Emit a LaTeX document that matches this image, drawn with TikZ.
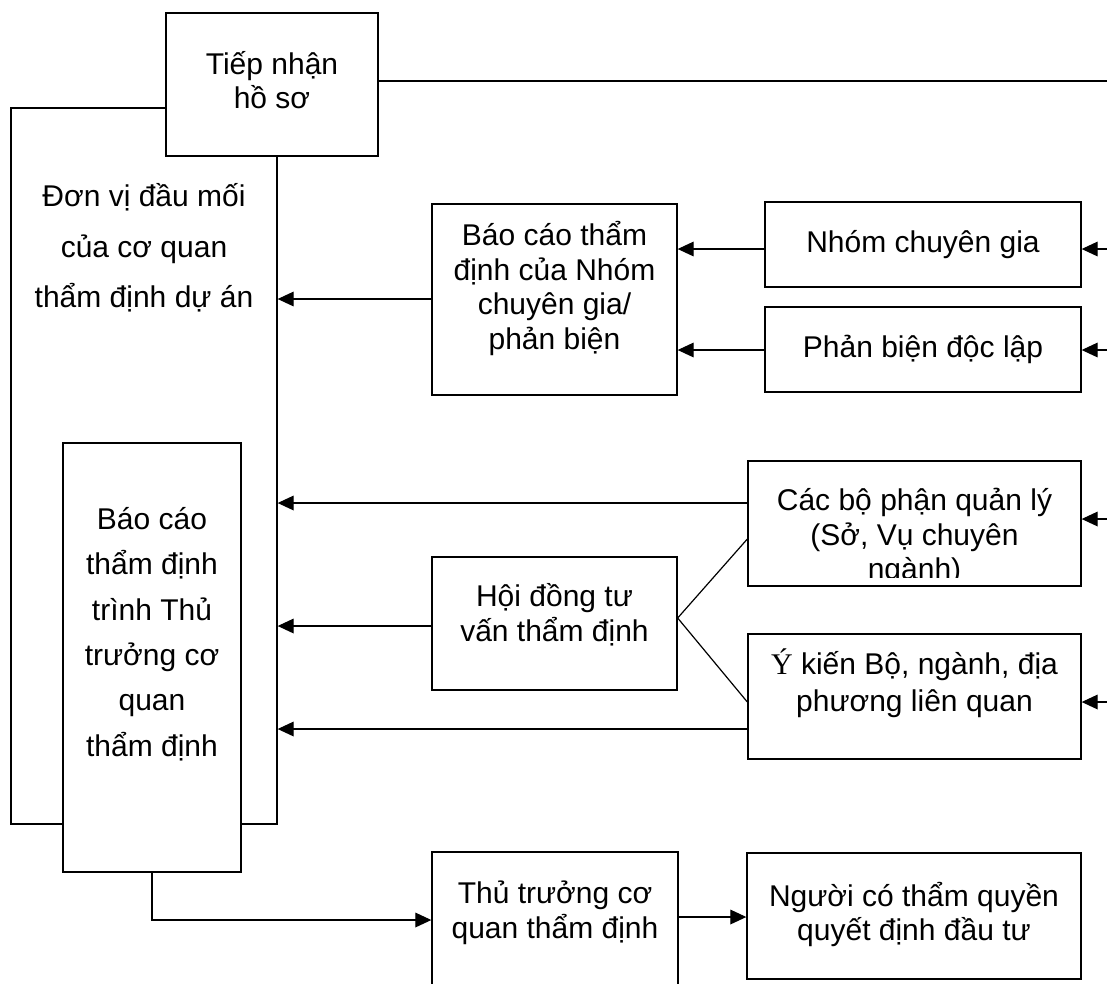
\documentclass[tikz,border=0pt]{standalone}
\usepackage{fontspec}
\setmainfont{Liberation Sans}
\newfontfamily\timesfont{Liberation Serif}
\usetikzlibrary{arrows.meta,fit}

\tikzset{
  box/.style={draw, fill=white, line width=1pt, inner sep=0pt},
  txt/.style={align=center, inner sep=0pt, font=\fontsize{22.5}{26}\selectfont},
  arr/.style={-{Triangle[length=12pt,width=11pt]}},
}

\begin{document}
\begin{tikzpicture}[x=0.75pt, y=-0.75pt, line width=0.9pt]
  \clip (0,0) rectangle (1107,983);

  % left column
  \node[box, fit={(11,108) (277,824)}] (donvi) {};
  \node[txt, font=\fontsize{22.5}{38}\selectfont] (donvi-t) at (144,248)
    {Đơn vị đầu mối\\của cơ quan\\thẩm định dự án};
  \node[box, fit={(166,13) (378,156)}] (tiepnhan) {};
  \node[txt] (tiepnhan-t) at (272,80) {Tiếp nhận\\hồ sơ};
  \node[box, fit={(63,443) (241,872)}] (trinh) {};
  \node[txt, font=\fontsize{22.5}{34}\selectfont] (trinh-t) at (152,634)
    {Báo cáo\\thẩm định\\trình Thủ\\trưởng cơ\\quan\\thẩm định};

  % middle column
  \node[box, fit={(432,204) (677,395)}] (baocao) {};
  \node[txt] (baocao-t) at (554.5,288.5)
    {Báo cáo thẩm\\định của Nhóm\\chuyên gia/\\phản biện};
  \node[box, fit={(432,557) (677,690)}] (hoidong) {};
  \node[txt] (hoidong-t) at (554.5,614.5) {Hội đồng tư\\vấn thẩm định};
  \node[box, fit={(432,852) (678,1000)}] (thutruong) {};
  \node[txt] (thutruong-t) at (555,913) {Thủ trưởng cơ\\quan thẩm định};

  % right column
  \node[box, fit={(765,202) (1081,287)}] (nhom) {};
  \node[txt] (nhom-t) at (923,245) {Nhóm chuyên gia};
  \node[box, fit={(765,307) (1081,392)}] (phanbien) {};
  \node[txt] (phanbien-t) at (923,349) {Phản biện độc lập};
  \node[box, fit={(748,461) (1081,586)}] (cacbo) {};
  \begin{scope}
    \clip (748,461) rectangle (1081,577);
    \node[txt] (cacbo-t) at (914.5,537)
      {Các bộ phận quản lý\\(Sở, Vụ chuyên\\ngành)};
  \end{scope}
  \node[box, fit={(748,634) (1081,759)}] (ykien) {};
  \node[txt, font=\fontsize{22.5}{28}\selectfont] (ykien-t) at (914.5,683)
    {{\timesfont Ý} kiến Bộ, ngành, địa\\phương liên quan};
  \node[box, fit={(747,853) (1081,979)}] (nguoi) {};
  \node[txt] (nguoi-t) at (914,914.5) {Người có thẩm quyền\\quyết định đầu tư};

  % inputs from the right edge
  \coordinate (out0) at (1107,81);
  \coordinate (in1) at (1107,249);
  \coordinate (in2) at (1107,350);
  \coordinate (in3) at (1107,519);
  \coordinate (in4) at (1107,702);
  \draw (tiepnhan.east |- out0) -- (out0);
  \draw[arr] (in1) -- (in1 -| nhom.east);
  \draw[arr] (in2) -- (in2 -| phanbien.east);
  \draw[arr] (in3) -- (in3 -| cacbo.east);
  \draw[arr] (in4) -- (in4 -| ykien.east);

  % connectors
  \draw[arr] (nhom.west |- 0,249) -- (baocao.east |- 0,249);
  \draw[arr] (phanbien.west |- 0,350) -- (baocao.east |- 0,350);
  \draw[arr] (baocao.west |- 0,299) -- (donvi.east |- 0,299);
  \draw[arr] (cacbo.west |- 0,503) -- (donvi.east |- 0,503);
  \draw[arr] (hoidong.west |- 0,626) -- (donvi.east |- 0,626);
  \draw[arr] (ykien.west |- 0,729) -- (donvi.east |- 0,729);
  \draw (hoidong.east |- 0,618) -- (cacbo.west |- 0,539);
  \draw (hoidong.east |- 0,618) -- (ykien.west |- 0,702);
  \draw[arr] (trinh.south) |- (thutruong.west |- 0,920);
  \draw[arr] (thutruong.east |- 0,917) -- (nguoi.west |- 0,917);
\end{tikzpicture}
\end{document}
